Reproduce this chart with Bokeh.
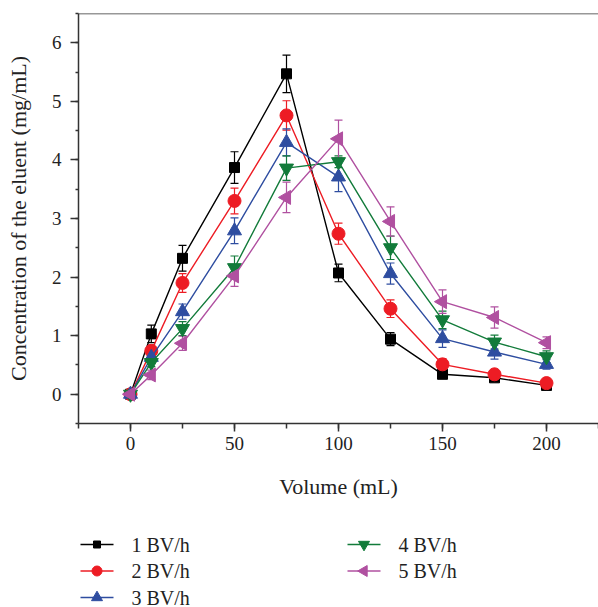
import numpy as np
from bokeh.plotting import figure
from bokeh.layouts import column
from bokeh.core.properties import value
from bokeh.models import (ColumnDataSource, Whisker, TeeHead,
                          SingleIntervalTicker, Range1d, Span)
from bokeh.embed import file_html
from bokeh.resources import INLINE

volume = [0, 10, 25, 50, 75, 100, 125, 150, 175, 200]
labels = ["1 BV/h", "2 BV/h", "3 BV/h", "4 BV/h", "5 BV/h"]
s1 = [0, 1.03, 2.32, 3.87, 5.47, 2.07, 0.94, 0.34, 0.28, 0.15]
s2 = [0, 0.74, 1.90, 3.30, 4.76, 2.74, 1.46, 0.51, 0.34, 0.19]
s3 = [0, 0.63, 1.41, 2.79, 4.30, 3.71, 2.06, 0.95, 0.72, 0.51]
s4 = [0, 0.54, 1.12, 2.16, 3.86, 3.97, 2.50, 1.27, 0.89, 0.64]
s5 = [0, 0.33, 0.87, 2.02, 3.36, 4.36, 2.95, 1.58, 1.31, 0.88]
e1 = [0, 0.15, 0.22, 0.27, 0.32, 0.15, 0.11, 0.07, 0.06, 0.04]
e2 = [0, 0.10, 0.16, 0.22, 0.25, 0.18, 0.15, 0.10, 0.08, 0.05]
e3 = [0, 0.08, 0.13, 0.22, 0.23, 0.25, 0.18, 0.15, 0.12, 0.08]
e4 = [0, 0.07, 0.12, 0.20, 0.21, 0.10, 0.20, 0.15, 0.12, 0.10]
e5 = [0, 0.08, 0.12, 0.18, 0.26, 0.32, 0.25, 0.20, 0.18, 0.10]

series = [s1, s2, s3, s4, s5]
errors = [e1, e2, e3, e4, e5]
colors = ["#000000", "#ED1C24", "#2E4DA0", "#127B3A", "#B050A0"]
markers = ["square", "circle", "triangle", "inverted_triangle", "triangle"]
angles = [0, 0, 0, 0, np.pi / 2]
sizes = [10, 13, 14, 14, 14]

FONT = "Liberation Serif"
AX = "#333333"
TXT = "#222222"

p = figure(width=598, height=515, output_backend="svg", toolbar_location=None,
           x_range=Range1d(-25, 225), y_range=Range1d(-0.5, 6.5),
           min_border_left=78, min_border_right=0, min_border_top=13,
           min_border_bottom=92)
p.grid.visible = False
p.outline_line_color = None

p.xaxis.ticker = SingleIntervalTicker(interval=50, num_minor_ticks=2)
p.yaxis.ticker = SingleIntervalTicker(interval=1, num_minor_ticks=2)
for ax in (p.xaxis[0], p.yaxis[0]):
    ax.axis_line_color = AX
    ax.axis_line_width = 1.5
    ax.major_tick_line_color = AX
    ax.minor_tick_line_color = AX
    ax.major_tick_line_width = 1.5
    ax.minor_tick_line_width = 1.5
    ax.major_tick_in = 0
    ax.major_tick_out = 8
    ax.minor_tick_in = 0
    ax.major_label_text_font = FONT
    ax.major_label_text_font_size = "19px"
    ax.major_label_text_color = TXT
    ax.axis_label_text_font = FONT
    ax.axis_label_text_font_size = "22px"
    ax.axis_label_text_font_style = "normal"
    ax.axis_label_text_color = TXT
p.xaxis.minor_tick_out = 5
p.yaxis.minor_tick_out = 3
p.xaxis.major_label_standoff = 5
p.yaxis.major_label_standoff = 9
p.xaxis.axis_label = "Volume (mL)"
p.yaxis.axis_label = "Concentration of the eluent (mg/mL)"
p.xaxis.axis_label_standoff = 21
p.yaxis.axis_label_standoff = 18

p.add_layout(Span(location=6.5, dimension="width", line_color=AX, line_width=1.5))

for s, e, c, m, a, sz in zip(series, errors, colors, markers, angles, sizes):
    src = ColumnDataSource(dict(x=volume, y=s,
                                up=[v + d for v, d in zip(s, e)],
                                lo=[v - d for v, d in zip(s, e)]))
    p.add_layout(Whisker(base="x", upper="up", lower="lo", source=src,
                         line_color=c, line_width=1.2,
                         upper_head=TeeHead(size=8, line_color=c, line_width=1.2),
                         lower_head=TeeHead(size=8, line_color=c, line_width=1.2)))
    p.line("x", "y", source=src, line_color=c, line_width=1.4)
    p.scatter("x", "y", source=src, marker=m, angle=a, size=sz,
              fill_color=c, line_color=c)

# ---- legend panel: a second figure whose units are page pixels ----
pl = figure(width=598, height=92, output_backend="svg", toolbar_location=None,
            x_range=Range1d(78, 598), y_range=Range1d(607, 515),
            x_axis_type=None, y_axis_type=None,
            min_border_left=0, min_border_right=0, min_border_top=0, min_border_bottom=0)
pl.grid.visible = False
pl.outline_line_color = None

col_x = [80, 347]
row_y0, row_dy, glyph_w, text_gap = 544, 26.5, 33, 51
gx = [col_x[i // 3] for i in range(len(labels))]
gy = [row_y0 + row_dy * (i % 3) for i in range(len(labels))]
leg = ColumnDataSource(dict(
    x0=gx, x1=[x + glyph_w for x in gx], xm=[x + glyph_w / 2 for x in gx],
    xt=[x + text_gap for x in gx], y=gy, label=labels, color=colors,
    marker=markers, angle=angles, size=[s - 3 for s in sizes]))
pl.segment("x0", "y", "x1", "y", source=leg, line_color="color", line_width=1.4)
pl.scatter("xm", "y", source=leg, marker="marker", angle="angle", size="size",
           fill_color="color", line_color="color")
pl.text("xt", "y", text="label", source=leg, text_font=value(FONT),
        text_font_size="20px", text_baseline="middle", text_color=TXT)

layout = column(p, pl, spacing=0)
open("out.html", "w").write(file_html(layout, INLINE))
